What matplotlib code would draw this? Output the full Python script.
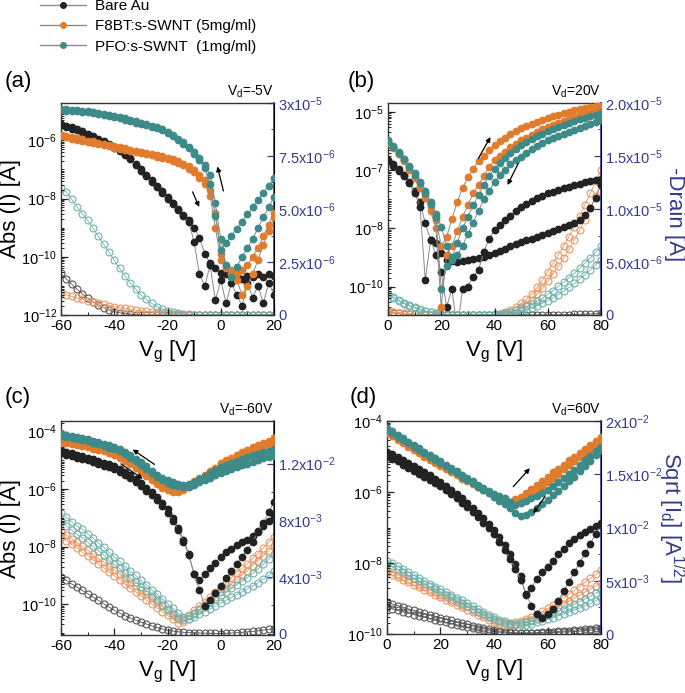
import numpy as np
import matplotlib
matplotlib.use("Agg")
import matplotlib.pyplot as plt
from matplotlib.lines import Line2D
from matplotlib.ticker import FixedLocator, LogLocator, NullFormatter, AutoMinorLocator, MultipleLocator

plt.rcParams['font.family'] = ['Liberation Sans', 'DejaVu Sans']
plt.rcParams['mathtext.fontset'] = 'custom'
plt.rcParams['mathtext.rm'] = 'Liberation Sans'
plt.rcParams['mathtext.it'] = 'Liberation Sans:italic'
plt.rcParams['mathtext.bf'] = 'Liberation Sans:bold'

# ---------------- data ----------------
series_names = ['Bare Au', 'F8BT:s-SWNT (5mg/ml)', 'PFO:s-SWNT  (1mg/ml)']

a_vg = list(range(-60, 21, 2))
b_vg = list(range(0, 81, 2))

# panel (a)  log10 |I| (left axis)
a_teal_f = [-4.93,-4.94,-4.95,-4.97,-4.98,-5.00,-5.03,-5.06,-5.09,-5.13,
            -5.17,-5.21,-5.25,-5.30,-5.35,-5.40,-5.45,-5.50,-5.55,-5.61,
            -5.70,-5.82,-5.95,-6.07,-6.22,-6.40,-6.60,-6.85,-7.20,-8.17,
            -9.40,-10.30,-10.70,-10.35,-10.00,-9.70,-9.40,-9.00,-8.65,-8.30,
            -7.94]
a_teal_r = [-4.97,-4.98,-4.99,-5.01,-5.02,-5.04,-5.07,-5.10,-5.13,-5.17,
            -5.21,-5.25,-5.29,-5.34,-5.39,-5.44,-5.49,-5.54,-5.59,-5.66,
            -5.75,-5.87,-6.00,-6.12,-6.28,-6.46,-6.68,-6.95,-7.50,-8.60,
            -9.77,-9.52,-9.28,-9.03,-8.79,-8.54,-8.30,-8.05,-7.80,-7.56,
            -7.31]
a_orng_f = [-5.81,-5.85,-5.89,-5.93,-5.97,-6.01,-6.04,-6.08,-6.12,-6.16,
            -6.20,-6.24,-6.28,-6.32,-6.36,-6.40,-6.43,-6.47,-6.51,-6.55,
            -6.60,-6.65,-6.72,-6.80,-6.90,-7.02,-7.18,-7.38,-7.70,-8.50,
            -9.90,-10.40,-10.60,-10.80,-11.30,-11.00,-10.60,-10.10,-9.60,-9.10,
            -8.63]
a_orng_r = [-5.86,-5.90,-5.94,-5.98,-6.02,-6.06,-6.09,-6.13,-6.17,-6.21,
            -6.25,-6.29,-6.33,-6.37,-6.41,-6.45,-6.48,-6.52,-6.56,-6.60,
            -6.65,-6.71,-6.78,-6.86,-6.97,-7.10,-7.28,-7.50,-7.90,-9.00,
            -10.10,-10.34,-10.45,-10.55,-10.45,-10.30,-10.00,-9.70,-9.30,-8.90,
            -8.50]
a_blk_f = [-5.45,-5.50,-5.56,-5.62,-5.69,-5.77,-5.85,-5.94,-6.03,-6.12,
           -6.22,-6.34,-6.47,-6.62,-6.80,-7.00,-7.20,-7.38,-7.56,-7.75,
           -7.95,-8.15,-8.35,-8.55,-8.75,-9.00,-9.35,-9.89,-10.23,-10.40,
           -10.55,-10.60,-10.70,-10.60,-10.75,-10.65,-10.70,-10.60,-10.70,-10.60,
           -10.65]
a_blk_r = [-5.49,-5.54,-5.60,-5.66,-5.73,-5.81,-5.89,-5.98,-6.07,-6.16,
           -6.26,-6.38,-6.51,-6.66,-6.84,-7.04,-7.24,-7.42,-7.60,-7.80,
           -8.00,-8.20,-8.40,-8.60,-8.80,-9.50,-10.60,-11.00,-10.30,-11.50,
           -10.80,-11.60,-10.90,-11.30,-11.70,-10.90,-11.40,-11.00,-11.60,-10.90,
           -11.30]
# panel (a) linear current, units of 1e-6 A (right axis)
a_teal_o = [5.97,5.80,5.45,5.10,4.78,4.47,4.10,3.72,3.34,2.96,
            2.59,2.20,1.84,1.52,1.22,0.94,0.74,0.55,0.40,0.28,
            0.20,0.14,0.10,0.07,0.04,0.02,0,0,0,0,
            0,0,0,0,0,0,0,0,0,0,
            0]
a_orng_o = [1.02,0.95,0.88,0.81,0.74,0.68,0.62,0.56,0.50,0.44,
            0.39,0.35,0.31,0.27,0.23,0.20,0.17,0.14,0.12,0.10,
            0.08,0.06,0.04,0.02,0.01,0,0,0,0,0,
            0,0,0,0,0,0,0,0,0,0,
            0]
a_blk_o = [1.96,1.70,1.45,1.22,1.00,0.78,0.62,0.48,0.35,0.25,
           0.16,0.11,0.07,0.04,0.02,0.01,0,0,0,0,
           0,0,0,0,0,0,0,0,0,0,
           0,0,0,0,0,0,0,0,0,0,
           0]

# panel (b)
b_orng_f = [-6.03,-6.22,-6.43,-6.66,-6.95,-7.23,-7.55,-7.87,-8.25,-8.71,
            -9.60,-9.30,-8.68,-8.10,-7.62,-7.25,-6.95,-6.70,-6.50,-6.30,
            -6.14,-6.00,-5.88,-5.76,-5.65,-5.56,-5.48,-5.40,-5.33,-5.26,
            -5.20,-5.14,-5.09,-5.04,-4.99,-4.94,-4.90,-4.86,-4.82,-4.78,
            -4.75]
b_orng_r = [-6.06,-6.25,-6.46,-6.70,-6.98,-7.27,-7.60,-7.95,-8.40,-9.00,
            -11.70,-9.90,-9.60,-9.10,-8.60,-8.20,-7.80,-7.50,-7.20,-6.90,
            -6.66,-6.50,-6.36,-6.22,-6.09,-5.97,-5.88,-5.78,-5.68,-5.60,
            -5.51,-5.44,-5.37,-5.30,-5.23,-5.17,-5.11,-5.05,-4.99,-4.94,
            -4.89]
b_teal_f = [-5.97,-6.17,-6.38,-6.60,-6.85,-7.11,-7.40,-7.72,-8.10,-8.50,
            -8.94,-9.60,-10.00,-9.50,-9.00,-8.60,-8.20,-7.85,-7.50,-7.20,
            -6.95,-6.75,-6.58,-6.42,-6.28,-6.15,-6.04,-5.93,-5.83,-5.74,
            -5.66,-5.58,-5.51,-5.44,-5.37,-5.31,-5.25,-5.19,-5.14,-5.09,
            -5.05]
b_teal_r = [-6.00,-6.20,-6.41,-6.63,-6.88,-7.15,-7.44,-7.77,-8.15,-8.60,
            -11.10,-10.30,-10.10,-9.90,-9.60,-9.20,-8.80,-8.40,-8.00,-7.70,
            -7.40,-7.18,-6.98,-6.80,-6.66,-6.54,-6.40,-6.27,-6.16,-6.06,
            -5.97,-5.90,-5.83,-5.76,-5.69,-5.63,-5.56,-5.49,-5.42,-5.35,
            -5.29]
b_blk_f = [-6.65,-6.80,-6.97,-7.15,-7.40,-7.70,-8.10,-8.83,-9.40,-9.51,
           -9.86,-10.09,-10.14,-10.15,-10.12,-10.10,-10.06,-10.02,-9.97,-9.90,
           -9.85,-9.78,-9.70,-9.62,-9.54,-9.46,-9.41,-9.35,-9.29,-9.23,
           -9.17,-9.10,-9.03,-8.96,-8.90,-8.83,-8.72,-8.55,-8.30,-7.95,
           -7.50]
b_blk_r = [-6.70,-6.85,-7.02,-7.20,-7.45,-7.78,-8.25,-10.77,-9.40,-9.90,
           -10.50,-11.70,-11.10,-12.50,-11.10,-11.00,-10.66,-10.43,-9.80,-9.35,
           -9.06,-8.90,-8.73,-8.57,-8.41,-8.26,-8.16,-8.06,-7.97,-7.88,
           -7.80,-7.74,-7.68,-7.62,-7.57,-7.51,-7.46,-7.42,-7.37,-7.33,
           -7.29]
# panel (b) -Drain, units of 1e-6 A
b_orng_of = [0.35,0.28,0.22,0.16,0.11,0.07,0.04,0.02,0.01,0,
             0,0,0,0,0,0,0,0,0,0,
             0.05,0.12,0.25,0.45,0.75,1.10,1.50,2.00,2.60,3.30,
             4.10,4.90,5.70,6.50,7.40,8.30,9.30,10.40,11.50,12.60,
             13.70]
b_orng_or = [0.30,0.24,0.18,0.13,0.09,0.06,0.03,0.01,0,0,
             0,0,0,0,0,0,0,0,0,0,
             0.03,0.08,0.16,0.30,0.50,0.75,1.05,1.45,1.95,2.55,
             3.20,3.90,4.60,5.40,6.20,7.10,8.00,9.00,10.10,11.20,
             12.40]
b_teal_of = [2.00,1.70,1.42,1.16,0.93,0.73,0.55,0.40,0.27,0.17,
             0.10,0.05,0.02,0,0,0,0,0,0,0,
             0.05,0.10,0.18,0.30,0.45,0.62,0.82,1.05,1.30,1.60,
             1.95,2.30,2.70,3.10,3.50,3.95,4.40,4.90,5.40,5.95,
             6.50]
b_teal_or = [1.85,1.57,1.30,1.06,0.85,0.66,0.50,0.36,0.24,0.15,
             0.08,0.04,0.01,0,0,0,0,0,0,0,
             0,0,0.05,0.12,0.22,0.35,0.50,0.68,0.88,1.10,
             1.35,1.62,1.92,2.25,2.60,2.98,3.38,3.80,4.25,4.72,
             5.20]
b_blk_o = [0.25,0.20,0.16,0.12,0.09,0.06,0.04,0.02,0.01,0,
           0,0,0,0,0,0,0,0,0,0,
           0,0,0,0,0,0,0,0,0,0,
           0,0.01,0.02,0.03,0.04,0.05,0.06,0.08,0.10,0.12,
           0.15]

# panel (c)
c_teal_f = [-4.06,-4.10,-4.14,-4.18,-4.22,-4.26,-4.31,-4.36,-4.42,-4.48,
            -4.54,-4.61,-4.71,-4.82,-4.94,-5.07,-5.21,-5.36,-5.49,-5.60,
            -5.69,-5.76,-5.82,-5.86,-5.82,-5.74,-5.64,-5.54,-5.44,-5.34,
            -5.23,-5.15,-5.08,-5.01,-4.94,-4.88,-4.82,-4.76,-4.71,-4.66,
            -4.61]
c_teal_r = [-4.14,-4.18,-4.22,-4.26,-4.30,-4.34,-4.39,-4.44,-4.50,-4.56,
            -4.62,-4.69,-4.79,-4.90,-5.02,-5.15,-5.29,-5.44,-5.57,-5.68,
            -5.77,-5.84,-5.90,-5.94,-5.91,-5.84,-5.76,-5.68,-5.60,-5.52,
            -5.45,-5.38,-5.31,-5.24,-5.17,-5.11,-5.05,-4.99,-4.93,-4.88,
            -4.83]
c_orng_f = [-4.32,-4.35,-4.38,-4.41,-4.45,-4.49,-4.53,-4.58,-4.63,-4.69,
            -4.76,-4.85,-4.95,-5.07,-5.21,-5.35,-5.49,-5.63,-5.77,-5.89,
            -5.98,-6.04,-6.05,-5.97,-5.85,-5.73,-5.61,-5.49,-5.37,-5.26,
            -5.10,-5.00,-4.90,-4.81,-4.72,-4.63,-4.55,-4.47,-4.39,-4.31,
            -4.23]
c_orng_r = [-4.38,-4.41,-4.44,-4.47,-4.51,-4.55,-4.59,-4.64,-4.69,-4.75,
            -4.82,-4.91,-5.01,-5.13,-5.27,-5.41,-5.55,-5.69,-5.83,-5.95,
            -6.04,-6.10,-6.11,-6.03,-5.91,-5.78,-5.66,-5.54,-5.42,-5.30,
            -5.22,-5.12,-5.02,-4.93,-4.84,-4.75,-4.67,-4.59,-4.51,-4.43,
            -4.35]
c_blk_f = [-4.65,-4.70,-4.75,-4.80,-4.85,-4.90,-4.96,-5.02,-5.08,-5.14,
           -5.21,-5.30,-5.40,-5.52,-5.65,-5.80,-5.95,-6.11,-6.28,-6.47,
           -6.70,-7.00,-7.35,-7.75,-8.25,-8.95,-9.15,-8.95,-8.75,-8.55,
           -8.35,-8.20,-8.07,-7.95,-7.85,-7.77,-7.62,-7.45,-7.28,-7.12,
           -6.95]
c_blk_r = [-4.75,-4.80,-4.85,-4.90,-4.95,-5.00,-5.06,-5.12,-5.18,-5.24,
           -5.31,-5.40,-5.50,-5.62,-5.75,-5.90,-6.05,-6.21,-6.38,-6.57,
           -6.82,-7.10,-7.42,-7.82,-8.30,-8.95,-9.50,-10.05,-9.85,-9.60,
           -9.35,-9.10,-8.85,-8.60,-8.35,-8.10,-7.82,-7.50,-7.18,-6.80,
           -6.43]
# panel (c) sqrt(Id), units of 1e-3
c_teal_of = [8.50,8.20,7.90,7.60,7.35,7.05,6.75,6.40,6.10,5.75,
             5.40,5.10,4.75,4.40,4.10,3.76,3.45,3.10,2.80,2.45,
             2.12,1.80,1.45,1.20,1.25,1.45,1.70,1.95,2.20,2.45,
             2.70,2.95,3.20,3.45,3.70,3.95,4.25,4.55,4.90,5.25,
             5.60]
c_teal_or = [7.90,7.60,7.30,7.00,6.75,6.45,6.15,5.85,5.55,5.20,
             4.90,4.60,4.25,3.95,3.65,3.30,3.00,2.65,2.35,2.00,
             1.70,1.40,1.10,0.95,1.00,1.15,1.35,1.55,1.75,1.95,
             2.15,2.35,2.55,2.75,2.95,3.15,3.35,3.60,3.85,4.10,
             4.40]
c_orng_of = [7.20,6.95,6.70,6.45,6.15,5.90,5.60,5.30,5.05,4.75,
             4.47,4.20,3.90,3.60,3.35,3.06,2.78,2.50,2.20,1.92,
             1.65,1.30,1.00,1.10,1.30,1.65,1.95,2.25,2.60,2.95,
             3.29,3.60,3.95,4.30,4.60,4.94,5.30,5.65,6.05,6.45,
             6.82]
c_orng_or = [6.80,6.55,6.30,6.05,5.75,5.50,5.20,4.90,4.65,4.35,
             4.07,3.80,3.50,3.20,2.95,2.66,2.38,2.10,1.82,1.55,
             1.28,1.00,0.75,0.85,1.05,1.35,1.65,1.95,2.25,2.60,
             2.90,3.20,3.50,3.85,4.15,4.45,4.80,5.15,5.50,5.85,
             6.20]
c_blk_o = [4.00,3.75,3.50,3.28,3.05,2.82,2.58,2.35,2.10,1.88,
           1.65,1.45,1.27,1.10,0.95,0.82,0.68,0.55,0.43,0.33,
           0.24,0.18,0.13,0.09,0.06,0.05,0.04,0.03,0.02,0.01,
           0.00,0.02,0.04,0.06,0.09,0.12,0.16,0.20,0.25,0.30,
           0.35]

# panel (d)
d_teal_f = [-4.25,-4.34,-4.44,-4.53,-4.63,-4.72,-4.81,-4.91,-5.00,-5.10,
            -5.19,-5.28,-5.38,-5.47,-5.57,-5.66,-5.75,-5.85,-5.94,-6.04,
            -6.13,-6.24,-6.35,-6.46,-6.58,-6.69,-6.64,-6.56,-6.46,-6.35,
            -6.22,-6.09,-5.96,-5.83,-5.70,-5.57,-5.42,-5.27,-5.12,-4.97,
            -4.82]
d_teal_r = [-4.20,-4.29,-4.39,-4.48,-4.58,-4.67,-4.76,-4.86,-4.95,-5.05,
            -5.14,-5.23,-5.33,-5.42,-5.52,-5.61,-5.70,-5.80,-5.89,-5.98,
            -6.06,-6.12,-6.18,-6.27,-6.36,-6.30,-6.24,-6.17,-6.10,-6.02,
            -5.94,-5.83,-5.72,-5.60,-5.49,-5.38,-5.25,-5.11,-4.98,-4.85,
            -4.72]
d_orng_f = [-4.30,-4.39,-4.49,-4.58,-4.68,-4.77,-4.86,-4.96,-5.05,-5.15,
            -5.24,-5.32,-5.41,-5.49,-5.58,-5.66,-5.74,-5.83,-5.91,-6.00,
            -6.08,-6.17,-6.27,-6.28,-6.20,-6.13,-6.02,-5.91,-5.80,-5.68,
            -5.57,-5.45,-5.34,-5.23,-5.11,-5.00,-4.89,-4.78,-4.68,-4.57,
            -4.46]
d_orng_r = [-4.34,-4.43,-4.53,-4.62,-4.72,-4.81,-4.90,-5.00,-5.09,-5.19,
            -5.28,-5.36,-5.45,-5.53,-5.62,-5.70,-5.78,-5.87,-5.95,-6.04,
            -6.12,-6.21,-6.30,-6.33,-6.30,-6.22,-6.12,-6.02,-5.92,-5.82,
            -5.72,-5.60,-5.48,-5.36,-5.24,-5.12,-5.01,-4.90,-4.79,-4.68,
            -4.58]
d_blk_f = [-4.86,-4.94,-5.02,-5.11,-5.19,-5.28,-5.36,-5.45,-5.53,-5.62,
           -5.71,-5.82,-5.93,-6.05,-6.18,-6.31,-6.45,-6.59,-6.74,-6.90,
           -7.06,-7.28,-7.50,-7.76,-8.04,-8.38,-8.90,-8.70,-8.45,-8.25,
           -8.10,-7.95,-7.75,-7.60,-7.45,-7.33,-7.22,-7.12,-7.03,-6.95,
           -6.88]
d_blk_r = [-4.98,-5.06,-5.14,-5.23,-5.31,-5.40,-5.48,-5.57,-5.65,-5.74,
           -5.83,-5.94,-6.05,-6.17,-6.30,-6.43,-6.57,-6.71,-6.86,-7.02,
           -7.18,-7.40,-7.62,-7.88,-8.16,-8.48,-8.88,-9.20,-9.45,-9.55,
           -9.45,-9.30,-9.06,-8.80,-8.53,-8.26,-8.00,-7.73,-7.46,-7.19,
           -6.92]
# panel (d) sqrt(Id), units of 1e-3
d_teal_of = [6.90,6.62,6.34,6.06,5.78,5.50,5.24,4.98,4.72,4.46,
             4.20,3.94,3.68,3.42,3.16,2.90,2.62,2.34,2.06,1.78,
             1.55,1.35,1.18,1.05,0.98,1.00,1.08,1.22,1.38,1.56,
             1.75,1.95,2.15,2.36,2.58,2.80,3.05,3.30,3.55,3.82,
             4.10]
d_teal_or = [6.60,6.33,6.06,5.79,5.52,5.25,4.99,4.73,4.47,4.21,
             3.95,3.69,3.43,3.17,2.91,2.65,2.38,2.11,1.85,1.60,
             1.38,1.18,1.02,0.90,0.84,0.82,0.88,0.98,1.10,1.24,
             1.38,1.54,1.70,1.87,2.05,2.24,2.44,2.65,2.88,3.13,
             3.40]
d_orng_of = [6.03,5.80,5.57,5.33,5.10,4.86,4.63,4.40,4.16,3.93,
             3.69,3.46,3.22,2.99,2.75,2.52,2.28,2.05,1.81,1.58,
             1.36,1.15,1.00,0.98,1.08,1.22,1.40,1.62,1.86,2.12,
             2.40,2.72,3.05,3.40,3.75,4.10,4.45,4.85,5.22,5.60,
             6.00]
d_orng_or = [5.78,5.55,5.32,5.08,4.85,4.61,4.38,4.15,3.91,3.68,
             3.44,3.21,2.97,2.74,2.50,2.27,2.03,1.80,1.56,1.33,
             1.12,0.95,0.85,0.85,0.92,1.03,1.18,1.36,1.56,1.78,
             2.02,2.27,2.53,2.80,3.08,3.36,3.65,3.94,4.23,4.52,
             4.82]
d_blk_of = [3.00,2.83,2.67,2.51,2.36,2.21,2.07,1.93,1.80,1.67,
            1.54,1.41,1.28,1.15,1.02,0.90,0.78,0.66,0.55,0.45,
            0.36,0.28,0.21,0.16,0.12,0.10,0.10,0.11,0.13,0.15,
            0.18,0.21,0.24,0.27,0.31,0.35,0.39,0.44,0.49,0.54,
            0.60]
d_blk_or = [2.50,2.36,2.22,2.08,1.95,1.82,1.70,1.58,1.46,1.34,
            1.22,1.10,0.98,0.87,0.76,0.66,0.56,0.47,0.38,0.30,
            0.23,0.17,0.12,0.08,0.06,0.05,0.05,0.06,0.07,0.09,
            0.11,0.13,0.15,0.18,0.21,0.24,0.27,0.31,0.35,0.39,
            0.43]

# axis ticks / labels
a_xticks = [-60, -40, -20, 0, 20]
b_xticks = [0, 20, 40, 60, 80]
a_ylog_ticks = [-6, -8, -10, -12]
a_ylog_labels = ['10$^{-6}$', '10$^{-8}$', '10$^{-10}$', '10$^{-12}$']
b_ylog_ticks = [-5, -7, -9, -11]
b_ylog_labels = ['10$^{-5}$', '10$^{-7}$', '10$^{-8}$', '10$^{-10}$']
c_ylog_ticks = [-4, -6, -8, -10]
c_ylog_labels = ['10$^{-4}$', '10$^{-6}$', '10$^{-8}$', '10$^{-10}$']
d_ylog_ticks = [-4, -6, -8, -10]
d_ylog_labels = ['10$^{-4}$', '10$^{-6}$', '10$^{-8}$', '10$^{-10}$']
a_r_ticks = [0, 2.5, 5, 7.5, 10]
a_r_labels = ['0', '2.5x10$^{-6}$', '5.0x10$^{-6}$', '7.5x10$^{-6}$', '3x10$^{-5}$']
b_r_ticks = [0, 5, 10, 15, 20]
b_r_labels = ['0', '5.0x10$^{-6}$', '1.0x10$^{-5}$', '1.5x10$^{-5}$', '2.0x10$^{-5}$']
c_r_ticks = [0, 4, 8, 12]
c_r_labels = ['0', '4x10$^{-3}$', '8x10$^{-3}$', '1.2x10$^{-2}$']
d_r_ticks = [0, 5, 10, 15, 20]
d_r_labels = ['0', '5x10$^{-3}$', '1x10$^{-2}$', '1.5x10$^{-2}$', '2x10$^{-2}$']

# ---------------- style ----------------
C_BLK, C_ORG, C_TEAL = '#222222', '#e07c2c', '#3d8b88'
O_BLK, O_ORG, O_TEAL = '#555555', '#e99660', '#6fb2ae'
LINEC = '#8a8a8a'
BLUE = '#353a8c'

W, H = 685, 693
fig = plt.figure(figsize=(W / 100, H / 100), dpi=100)


def px_axes(l, t, r, b):
    return fig.add_axes([l / W, 1 - b / H, (r - l) / W, (b - t) / H])


def filled(ax, x, logv, c):
    ax.plot(x, np.power(10.0, np.array(logv)), color=LINEC, lw=0.7, marker='o', ms=5.6,
            mfc=c, mec=c, mew=0.0, zorder=3)


def opened(ax, x, v, c):
    ax.plot(x, v, color=c, lw=0.6, marker='o', ms=5.0, mfc='none', mec=c, mew=0.8, zorder=2)


def setup(ax, xt, ylim_log, yt, yl, rylim, rt, rl):
    ax.set_yscale('log')
    ax.set_xlim(xt[0], xt[-1])
    ax.set_ylim(10.0 ** ylim_log[0], 10.0 ** ylim_log[1])
    ax.xaxis.set_major_locator(FixedLocator(xt))
    ax.xaxis.set_minor_locator(MultipleLocator(10))
    ax.set_xticklabels([str(v) for v in xt], fontsize=11)
    ax.yaxis.set_major_locator(FixedLocator([10.0 ** v for v in yt]))
    ax.yaxis.set_minor_locator(LogLocator(base=10, subs=np.arange(1, 10), numticks=40))
    ax.yaxis.set_minor_formatter(NullFormatter())
    ax.set_yticklabels(yl, fontsize=10.5)
    ax.tick_params(which='both', direction='in', top=False, right=False, colors='#222222',
                   labelcolor='black')
    ax.tick_params(which='major', length=5, width=0.9, pad=3)
    ax.tick_params(which='minor', length=2.5, width=0.7)
    for s in ['left', 'bottom', 'top']:
        ax.spines[s].set_color('#333333')
        ax.spines[s].set_linewidth(1.0)
    ax2 = ax.twinx()
    ax2.set_ylim(*rylim)
    ax2.yaxis.set_major_locator(FixedLocator(rt))
    ax2.yaxis.set_minor_locator(AutoMinorLocator(2))
    ax2.set_yticklabels(rl, fontsize=10.5, color=BLUE)
    ax2.tick_params(which='both', direction='in', colors=BLUE, labelcolor=BLUE)
    ax2.tick_params(which='major', length=5, width=0.9, pad=3)
    ax2.tick_params(which='minor', length=2.5, width=0.7)
    for s in ['left', 'bottom', 'top']:
        ax2.spines[s].set_visible(False)
    ax2.spines['right'].set_color(BLUE)
    ax2.spines['right'].set_linewidth(1.2)
    ax.set_xlabel('V$_\\mathrm{g}$ [V]', fontsize=16, labelpad=4)
    return ax2


def arrow(ax, x0, y0, x1, y1):
    ax.annotate('', xy=(x1, 10.0 ** y1), xytext=(x0, 10.0 ** y0),
                arrowprops=dict(arrowstyle='-|>', lw=0.9, color='black', mutation_scale=7,
                                shrinkA=0, shrinkB=0), zorder=6)


def finish(ax, ax2):
    ax.set_zorder(ax2.get_zorder() + 1)
    ax.patch.set_visible(False)


# ---- panel (a)
ax = px_axes(61, 103, 274, 315)
ax2 = setup(ax, a_xticks, (-12.0, -4.72), a_ylog_ticks, a_ylog_labels, (0, 10), a_r_ticks, a_r_labels)
opened(ax2, a_vg, a_blk_o, O_BLK)
opened(ax2, a_vg, a_orng_o, O_ORG)
opened(ax2, a_vg, a_teal_o, O_TEAL)
for v, c in [(a_blk_f, C_BLK), (a_blk_r, C_BLK), (a_orng_f, C_ORG), (a_orng_r, C_ORG),
             (a_teal_f, C_TEAL), (a_teal_r, C_TEAL)]:
    filled(ax, a_vg, v, c)
finish(ax, ax2)
ax.set_ylabel('Abs (I) [A]', fontsize=16)
ax.yaxis.set_label_coords(-0.19, 0.5)
arrow(ax, -10.6, -7.77, -8.1, -8.29)
arrow(ax, 1.0, -7.74, -1.25, -6.9)
ax.text(1.0, 1.015, 'V$_\\mathrm{d}$=-5V', transform=ax.transAxes, ha='right', va='bottom', fontsize=10)

# ---- panel (b)
ax = px_axes(388, 103, 601, 315)
ax2 = setup(ax, b_xticks, (-11.98, -4.69), b_ylog_ticks, b_ylog_labels, (0, 20), b_r_ticks, b_r_labels)
opened(ax2, b_vg, b_blk_o, O_BLK)
opened(ax2, b_vg, b_orng_of, O_ORG)
opened(ax2, b_vg, b_orng_or, O_ORG)
opened(ax2, b_vg, b_teal_of, O_TEAL)
opened(ax2, b_vg, b_teal_or, O_TEAL)
for v, c in [(b_blk_f, C_BLK), (b_blk_r, C_BLK), (b_orng_f, C_ORG), (b_orng_r, C_ORG),
             (b_teal_f, C_TEAL), (b_teal_r, C_TEAL)]:
    filled(ax, b_vg, v, c)
finish(ax, ax2)
arrow(ax, 33.9, -6.6, 38.5, -5.86)
arrow(ax, 48.9, -6.77, 44.9, -7.51)
ax.text(1.0, 1.015, 'V$_\\mathrm{d}$=20V', transform=ax.transAxes, ha='right', va='bottom', fontsize=10)
fig.text(674 / W, 1 - 214 / H, '-Drain [A]', rotation=270, ha='center', va='center',
         fontsize=16, color=BLUE)

# ---- panel (c)
ax = px_axes(61, 421, 274, 635)
ax2 = setup(ax, a_xticks, (-11.07, -3.63), c_ylog_ticks, c_ylog_labels, (-0.1, 15), c_r_ticks, c_r_labels)
opened(ax2, a_vg, c_blk_o, O_BLK)
opened(ax2, a_vg, c_orng_of, O_ORG)
opened(ax2, a_vg, c_orng_or, O_ORG)
opened(ax2, a_vg, c_teal_of, O_TEAL)
opened(ax2, a_vg, c_teal_or, O_TEAL)
for v, c in [(c_blk_f, C_BLK), (c_blk_r, C_BLK), (c_orng_f, C_ORG), (c_orng_r, C_ORG),
             (c_teal_f, C_TEAL), (c_teal_r, C_TEAL)]:
    filled(ax, a_vg, v, c)
finish(ax, ax2)
ax.set_ylabel('Abs (I) [A]', fontsize=16)
ax.yaxis.set_label_coords(-0.19, 0.5)
arrow(ax, -24.9, -5.14, -33.1, -4.62)
arrow(ax, -37.5, -5.12, -29.3, -5.64)
ax.text(1.0, 1.015, 'V$_\\mathrm{d}$=-60V', transform=ax.transAxes, ha='right', va='bottom', fontsize=10)

# ---- panel (d)
ax = px_axes(387, 421, 601, 634)
ax2 = setup(ax, b_xticks, (-10.0, -4.0), d_ylog_ticks, d_ylog_labels, (0, 20), d_r_ticks, d_r_labels)
opened(ax2, b_vg, d_blk_of, O_BLK)
opened(ax2, b_vg, d_blk_or, O_BLK)
opened(ax2, b_vg, d_orng_of, O_ORG)
opened(ax2, b_vg, d_orng_or, O_ORG)
opened(ax2, b_vg, d_teal_of, O_TEAL)
opened(ax2, b_vg, d_teal_or, O_TEAL)
for v, c in [(d_blk_f, C_BLK), (d_blk_r, C_BLK), (d_orng_f, C_ORG), (d_orng_r, C_ORG),
             (d_teal_f, C_TEAL), (d_teal_r, C_TEAL)]:
    filled(ax, b_vg, v, c)
finish(ax, ax2)
arrow(ax, 47.2, -5.85, 53.4, -5.33)
arrow(ax, 59.05, -6.13, 54.7, -6.6)
ax.text(1.0, 1.015, 'V$_\\mathrm{d}$=60V', transform=ax.transAxes, ha='right', va='bottom', fontsize=10)
fig.text(671 / W, 1 - 518 / H, 'Sqrt [I$_\\mathrm{d}$] [A$^{1/2}$]', rotation=270, ha='center',
         va='center', fontsize=16, color=BLUE)

# panel letters
for lbl, xp, yp in [('(a)', 5, 81), ('(b)', 348, 81), ('(c)', 5, 397), ('(d)', 350, 397)]:
    fig.text(xp / W, 1 - yp / H, lbl, fontsize=16, ha='left', va='center')

# legend
handles = [Line2D([], [], color=LINEC, lw=1.0, marker='o', ms=4, mfc=c, mec=c)
           for c in (C_BLK, C_ORG, C_TEAL)]
fig.legend(handles, series_names, loc='upper left', bbox_to_anchor=(40 / W, 1 + 1 / H),
           frameon=False, fontsize=11, handlelength=3.0, handletextpad=0.6,
           labelspacing=0.42, borderpad=0, borderaxespad=0)

fig.savefig('out.png', dpi=100)
